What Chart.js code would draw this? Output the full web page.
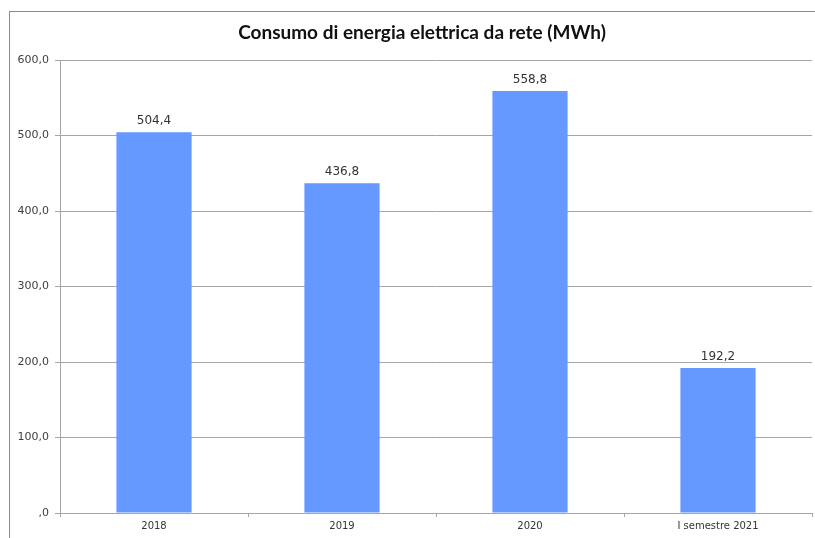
<!DOCTYPE html>
<html>
<head>
<meta charset="utf-8">
<script src="https://cdn.jsdelivr.net/npm/chart.js@4"></script>
<style>
    html, body { margin: 0; padding: 0; background: #fff; }
    #wrap { width: 815px; height: 538px; position: relative; }
</style>
</head>
<body>
<div id="wrap"><canvas id="chart"></canvas></div>
<script>
const chartTitle = 'Consumo di energia elettrica da rete (MWh)';
const categories = ['2018', '2019', '2020', 'I semestre 2021'];
const consumo = [504.4, 436.8, 558.8, 192.2];
const yTicks = [0, 100, 200, 300, 400, 500, 600];

const fmt = v => v === 0 ? ',0' : v.toFixed(1).replace('.', ',');

// outer frame and title, placed like the spreadsheet chart
const framePlugin = {
    id: 'frame',
    beforeDraw(chart) {
        const ctx = chart.ctx;
        ctx.save();
        ctx.strokeStyle = '#8c8c8c';
        ctx.lineWidth = 1;
        ctx.strokeRect(9.5, 11.5, 830, 560);
        ctx.font = 'bold 19px Lato';
        ctx.fillStyle = '#111';
        ctx.textAlign = 'center';
        ctx.textBaseline = 'middle';
        ctx.fillText(chartTitle, 422, 33);
        ctx.restore();
    }
};

// value labels above each bar
const valueLabels = {
    id: 'valueLabels',
    afterDatasetsDraw(chart) {
        const ctx = chart.ctx;
        const meta = chart.getDatasetMeta(0);
        ctx.save();
        ctx.font = '12px "DejaVu Sans"';
        ctx.fillStyle = '#333';
        ctx.textAlign = 'center';
        ctx.textBaseline = 'bottom';
        meta.data.forEach((bar, i) => {
            ctx.fillText(fmt(consumo[i]), bar.x, bar.y - 5);
        });
        ctx.restore();
    }
};

new Chart(document.getElementById('chart'), {
    type: 'bar',
    data: {
        labels: categories,
        datasets: [{
            data: consumo,
            backgroundColor: '#6699ff',
            borderWidth: 0,
            barPercentage: 0.4,
            categoryPercentage: 1
        }]
    },
    options: {
        responsive: true,
        maintainAspectRatio: false,
        animation: false,
        layout: { padding: { left: 10, top: 60, right: 3, bottom: 3 } },
        plugins: {
            legend: { display: false },
            tooltip: { enabled: false },
            title: { display: false }
        },
        scales: {
            x: {
                grid: { drawOnChartArea: false, tickLength: 4, color: '#a6a6a6' },
                border: { color: '#a6a6a6' },
                ticks: {
                    color: '#333',
                    font: { family: 'DejaVu Sans', size: 10 },
                    padding: 3,
                    maxRotation: 0
                }
            },
            y: {
                min: 0,
                max: 600,
                afterBuildTicks(scale) {
                    scale.ticks = yTicks.map(v => ({ value: v }));
                },
                afterFit(scale) { scale.width = 50; },
                grid: { color: '#a6a6a6', tickLength: 5 },
                border: { color: '#a6a6a6' },
                ticks: {
                    color: '#404040',
                    font: { family: 'DejaVu Sans', size: 11 },
                    padding: 6,
                    callback: v => fmt(v)
                }
            }
        }
    },
    plugins: [framePlugin, valueLabels]
});
</script>
</body>
</html>
